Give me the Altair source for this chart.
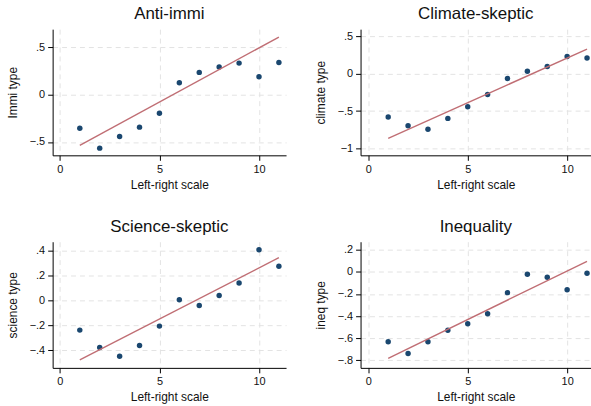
import altair as alt
import pandas as pd

# ---- data ----
left_right = [1, 2, 3, 4, 5, 6, 7, 8, 9, 10, 11]
immi_type = [-0.354, -0.565, -0.442, -0.343, -0.196, 0.126, 0.236, 0.292, 0.334, 0.189, 0.341]
climate_type = [-0.580, -0.696, -0.745, -0.598, -0.442, -0.277, -0.063, 0.036, 0.098, 0.232, 0.214]
science_type = [-0.240, -0.380, -0.449, -0.364, -0.208, 0.003, -0.042, 0.037, 0.138, 0.404, 0.272]
ineq_type = [-0.633, -0.738, -0.633, -0.529, -0.469, -0.379, -0.188, -0.021, -0.048, -0.161, -0.012]

fit_x = [1, 11]
immi_fit = [-0.537, 0.609]
climate_fit = [-0.866, 0.331]
science_fit = [-0.478, 0.341]
ineq_fit = [-0.782, 0.096]

x_ticks = [0, 5, 10]
immi_ticks = [-0.5, 0, 0.5]
climate_ticks = [-1, -0.5, 0, 0.5]
science_ticks = [-0.4, -0.2, 0, 0.2, 0.4]
ineq_ticks = [-0.8, -0.6, -0.4, -0.2, 0, 0.2]

DOT = "#1a476f"
FIT = "#c06e74"
FONT = "Liberation Sans"
LABEL_EXPR = "replace(format(datum.value, '.1~f'), '0.', '.')"


def panel(title, ytitle, yvals, fitvals, ydomain, yticks, xdomain, width):
    pts = pd.DataFrame({"x": left_right, "y": yvals})
    fit = pd.DataFrame({"x": fit_x, "y": fitvals})
    xenc = alt.X(
        "x:Q",
        scale=alt.Scale(domain=xdomain, nice=False, zero=False),
        axis=alt.Axis(values=x_ticks, title="Left-right scale", labelPadding=3,
                      titlePadding=5, format="d"),
    )
    yenc = alt.Y(
        "y:Q",
        scale=alt.Scale(domain=ydomain, nice=False, zero=False),
        axis=alt.Axis(values=yticks, title=ytitle, labelExpr=LABEL_EXPR,
                      labelPadding=3, titlePadding=10),
    )
    dots = alt.Chart(pts).mark_circle(color=DOT, size=30, opacity=1).encode(x=xenc, y=yenc)
    line = alt.Chart(fit).mark_line(color=FIT, strokeWidth=1.4).encode(x=xenc, y=yenc)
    return alt.layer(dots, line).properties(
        width=width,
        height=127,
        title=alt.TitleParams(title, fontSize=17, fontWeight="normal", font=FONT,
                              color="#111", anchor="middle", offset=6),
    )


p1 = panel("Anti-immi", "Immi type", immi_type, immi_fit,
           [-0.641, 0.693], immi_ticks, [-0.364, 11.36], 235)
p2 = panel("Climate-skeptic", "climate type", climate_type, climate_fit,
           [-1.094, 0.6], climate_ticks, [-0.39, 11.2], 232)
p3 = panel("Science-skeptic", "science type", science_type, science_fit,
           [-0.543, 0.469], science_ticks, [-0.364, 11.36], 235)
p4 = panel("Inequality", "ineq type", ineq_type, ineq_fit,
           [-0.869, 0.273], ineq_ticks, [-0.39, 11.2], 232)

chart = alt.vconcat(
    alt.hconcat(p1, p2, spacing=28),
    alt.hconcat(p3, p4, spacing=28),
    spacing=28,
).properties(
    padding={"left": 6, "top": 4, "right": 0, "bottom": 0},
    background="white",
).configure_view(
    stroke=None
).configure_axis(
    labelFont=FONT, titleFont=FONT, labelFontSize=11, titleFontSize=12,
    labelColor="#111", titleColor="#111", titleFontWeight="normal",
    domainColor="#000", domainWidth=1, tickColor="#000", tickWidth=1, tickSize=5,
    gridColor="#e3e3e3", gridDash=[5, 4], gridWidth=1,
).configure_concat(spacing=28)

chart.save("out.html", embed_options={"renderer": "svg", "actions": False})
